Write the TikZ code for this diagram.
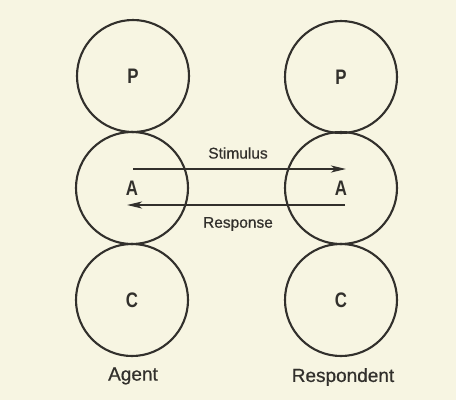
\documentclass[tikz,border=0pt]{standalone}
\usepackage{fontspec}
\setmainfont{Liberation Sans}
\newfontfamily\narrowfont[FakeStretch=0.8]{Liberation Sans}
\newfontfamily\labelfont[FakeBold=0.6]{Liberation Sans}
\usetikzlibrary{arrows.meta}
\definecolor{paper}{RGB}{247,245,226}
\definecolor{ink}{RGB}{50,48,44}
\begin{document}
\begin{tikzpicture}[x=1pt,y=-1pt,
  ego/.style={circle,draw=ink,line width=2.1pt,minimum size=112pt,inner sep=0pt,
    font=\narrowfont\bfseries\fontsize{21}{21}\selectfont,text=ink},
  captext/.style={font=\labelfont\fontsize{19}{19}\selectfont,text=ink},
  lbl/.style={font=\labelfont\fontsize{15.5}{15.5}\selectfont,text=ink},
  flow/.style={draw=ink,line width=2.1pt,-{Stealth[length=15pt,width=7pt,inset=4pt]}}]
\fill[paper] (0,0) rectangle (456,400);
\useasboundingbox (0,0) rectangle (456,400);
% Agent
\node[ego] (aP) at (133,76) {P};
\node[ego] (aA) at (132,188) {A};
\node[ego] (aC) at (132,300) {C};
% Respondent
\node[ego] (rP) at (341,77) {P};
\node[ego] (rA) at (341,188) {A};
\node[ego] (rC) at (341,300) {C};
% captions
\node[captext] (agent) at (133,376) {Agent};
\node[captext] (resp) at (343,377) {Respondent};
% transactions
\coordinate (s1) at (133,169);
\coordinate (s2) at (346,169);
\coordinate (r1) at (345,205);
\coordinate (r2) at (127,205);
\draw[flow] (s1) -- (s2);
\draw[flow] (r1) -- (r2);
\node[lbl] (stim) at (238,153) {Stimulus};
\node[lbl] (respl) at (238,224) {Response};
\end{tikzpicture}
\end{document}
